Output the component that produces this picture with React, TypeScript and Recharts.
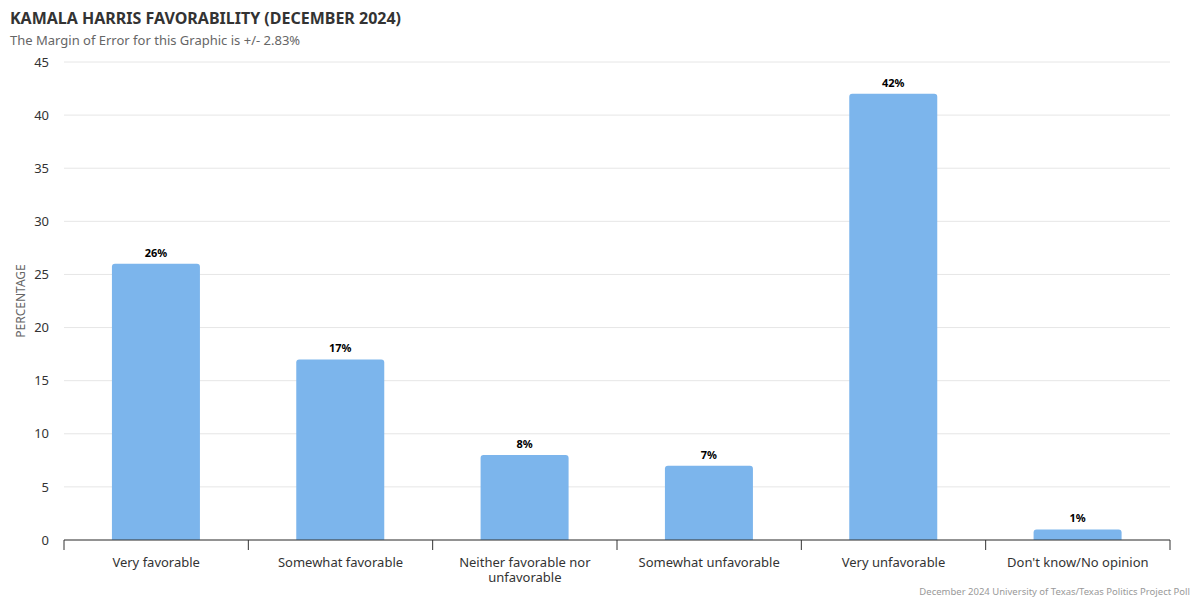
import { BarChart, Bar, XAxis, YAxis, CartesianGrid, LabelList, Text } from 'recharts'

const categories = [
  'Very favorable',
  'Somewhat favorable',
  'Neither favorable nor unfavorable',
  'Somewhat unfavorable',
  'Very unfavorable',
  "Don't know/No opinion",
]
const percentages = [26, 17, 8, 7, 42, 1]
const yTicks = [0, 5, 10, 15, 20, 25, 30, 35, 40, 45]

const FONT = '"Noto Sans", "Open Sans", sans-serif'
const WIDTH = 1200
const HEIGHT = 600
const MARGIN = { top: 62, right: 30, left: 0, bottom: 0 }
const Y_AXIS_WIDTH = 64
const BAND = (WIDTH - MARGIN.left - MARGIN.right - Y_AXIS_WIDTH) / categories.length

const data = categories.map((name, i) => ({ name, value: percentages[i] }))

// category label plus tick marks at the band edges
function CategoryTick(props: any) {
  const { x, y, payload, index } = props
  const half = payload && payload.offset ? payload.offset : BAND / 2
  const isLast = index === categories.length - 1
  return (
    <g>
      <line x1={x - half} y1={y} x2={x - half} y2={y + 10} stroke="#333" strokeWidth={1} />
      {isLast && <line x1={x + half} y1={y} x2={x + half} y2={y + 10} stroke="#333" strokeWidth={1} />}
      <Text
        x={x}
        y={y + 18}
        width={200}
        textAnchor="middle"
        verticalAnchor="start"
        lineHeight={15}
        fontSize={13}
        fontFamily={FONT}
        style={{ fontFamily: FONT, fontSize: 13 }}
        fill="#333"
      >
        {payload.value}
      </Text>
    </g>
  )
}

export default function App() {
  return (
    <div style={{ position: 'absolute', left: 0, top: 0, width: WIDTH, height: HEIGHT, background: '#fff', fontFamily: FONT }}>
      <div style={{ position: 'absolute', left: 10, top: 7, fontSize: 16, lineHeight: '22px', fontWeight: 700, color: '#333' }}>
        KAMALA HARRIS FAVORABILITY (DECEMBER 2024)
      </div>
      <div style={{ position: 'absolute', left: 10, top: 32, fontSize: 13, lineHeight: '16px', color: '#666' }}>
        The Margin of Error for this Graphic is +/- 2.83%
      </div>
      <BarChart width={WIDTH} height={HEIGHT} data={data} margin={MARGIN} barCategoryGap="26%">
        <CartesianGrid vertical={false} stroke="#e6e6e6" />
        <XAxis
          dataKey="name"
          height={60}
          axisLine={{ stroke: '#333' }}
          tickLine={false}
          tickSize={0}
          tickMargin={0}
          interval={0}
          tick={<CategoryTick />}
        />
        <YAxis
          width={Y_AXIS_WIDTH}
          domain={[0, 45]}
          ticks={yTicks}
          axisLine={false}
          tickLine={false}
          tickMargin={9}
          tick={{ fontSize: 13, fill: '#333', fontFamily: FONT }}
          label={{
            value: 'PERCENTAGE',
            angle: -90,
            position: 'insideLeft',
            offset: 21,
            style: { textAnchor: 'middle', fontSize: 12, fill: '#666', fontFamily: FONT },
          }}
        />
        <Bar dataKey="value" fill="#7cb5ec" radius={[3, 3, 0, 0]} isAnimationActive={false}>
          <LabelList
            dataKey="value"
            position="top"
            offset={7}
            formatter={(v: any) => `${v}%`}
            style={{ fontSize: 11, fontWeight: 700, fill: '#000', fontFamily: FONT }}
          />
        </Bar>
      </BarChart>
      <div style={{ position: 'absolute', right: 10, top: 586, fontSize: 9.5, lineHeight: '12px', color: '#999' }}>
        December 2024 University of Texas/Texas Politics Project Poll
      </div>
    </div>
  )
}
